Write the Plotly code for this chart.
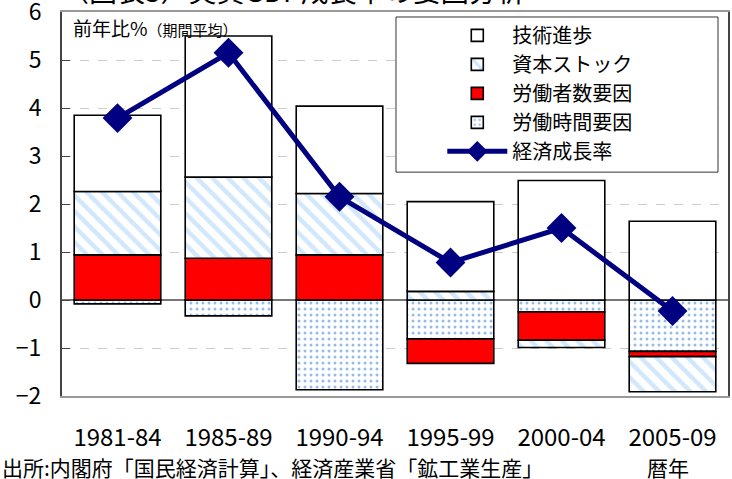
import plotly.graph_objects as go

periods = ['1981-84', '1985-89', '1990-94', '1995-99', '2000-04', '2005-09']
tech = [1.59, 2.94, 1.82, 1.87, 2.49, 1.64]           # 技術進歩
capital = [1.32, 1.69, 1.28, 0.18, -0.15, -0.73]      # 資本ストック
labor_count = [0.94, 0.87, 0.94, -0.51, -0.59, -0.11]  # 労働者数要因
labor_hours = [-0.08, -0.33, -1.87, -0.81, -0.25, -1.07]  # 労働時間要因
gdp_growth = [3.79, 5.15, 2.15, 0.78, 1.50, -0.23]    # 経済成長率

FONT = 'Noto Sans CJK JP'
edge = dict(color='black', width=1.6)

fig = go.Figure()
fig.add_trace(go.Bar(
    x=periods, y=labor_hours, name='労働時間要因', legendrank=4,
    marker=dict(color='white', line=edge,
                pattern=dict(shape='.', fgcolor='#2a7ad5', bgcolor='white',
                             size=6, solidity=0.2)),
))
fig.add_trace(go.Bar(
    x=periods, y=labor_count, name='労働者数要因', legendrank=3,
    marker=dict(color='#ff0000', line=edge),
))
fig.add_trace(go.Bar(
    x=periods, y=capital, name='資本ストック', legendrank=2,
    marker=dict(color='white', line=edge,
                pattern=dict(shape='\\', fgcolor='#a3cff7', bgcolor='white',
                             size=11, solidity=0.4)),
))
fig.add_trace(go.Bar(
    x=periods, y=tech, name='技術進歩', legendrank=1,
    marker=dict(color='white', line=edge),
))
fig.add_trace(go.Scatter(
    x=periods, y=gdp_growth, name='経済成長率', legendrank=5,
    mode='lines+markers',
    line=dict(color='#000080', width=5),
    marker=dict(symbol='diamond', size=23, color='#000080'),
))

fig.update_layout(
    width=732, height=479,
    barmode='relative', bargap=0.22,
    plot_bgcolor='white', paper_bgcolor='white',
    font=dict(family=FONT, color='black'),
    margin=dict(l=62, r=4, t=12, b=83),
    legend=dict(x=0.571, y=0.99, xanchor='left', yanchor='top',
                bgcolor='rgba(0,0,0,0)', borderwidth=0,
                font=dict(size=20, family=FONT), tracegroupgap=0,
                itemwidth=60),
    showlegend=True,
)
# legend frame
fig.add_shape(type='rect', xref='paper', yref='paper',
              x0=0.5015, x1=0.985, y0=0.583, y1=0.987,
              fillcolor='white', line=dict(color='#333333', width=1),
              layer='above')

fig.update_xaxes(
    type='category', range=[-0.5, 5.5], showgrid=False, ticks='',
    tickfont=dict(size=24, family=FONT), ticklabelstandoff=19,
    showline=True, linecolor='#999999', linewidth=2, mirror=True,
    automargin=False,
)
fig.update_yaxes(
    range=[-2, 6], dtick=1, showgrid=True, gridcolor='#cccccc',
    griddash='dash', gridwidth=1,
    zeroline=True, zerolinecolor='#777777', zerolinewidth=2,
    ticks='inside', ticklen=8, tickcolor='#444444',
    tickfont=dict(size=23, family=FONT), ticklabelstandoff=14,
    ticklabeloverflow='allow',
    showline=True, linecolor='#444444', linewidth=2, mirror=True,
    automargin=False,
)

fig.add_annotation(
    xref='paper', yref='paper', x=0.013, y=1.0, xanchor='left', yanchor='top',
    text='前年比%<span style="font-size:15px">（期間平均）</span>',
    showarrow=False, font=dict(size=19, family=FONT),
)
fig.add_annotation(
    xref='paper', yref='paper', x=-0.0045, y=1.0, xanchor='left', yanchor='bottom',
    text='（図表3）実質GDP成長率の要因分析',
    showarrow=False, font=dict(size=28, family=FONT),
)
fig.add_annotation(
    xref='paper', yref='paper', x=-0.093, y=-0.14, xanchor='left', yanchor='top',
    text='出所:内閣府「国民経済計算」、経済産業省「鉱工業生産」',
    showarrow=False, font=dict(size=21, family=FONT),
)
fig.add_annotation(
    xref='paper', yref='paper', x=0.945, y=-0.14, xanchor='right', yanchor='top',
    text='暦年', showarrow=False, font=dict(size=21, family=FONT),
)

fig.write_html('out.html', config={'displayModeBar': False},
               post_script="document.body.style.margin='0';"
                           "document.body.style.overflow='hidden';")
